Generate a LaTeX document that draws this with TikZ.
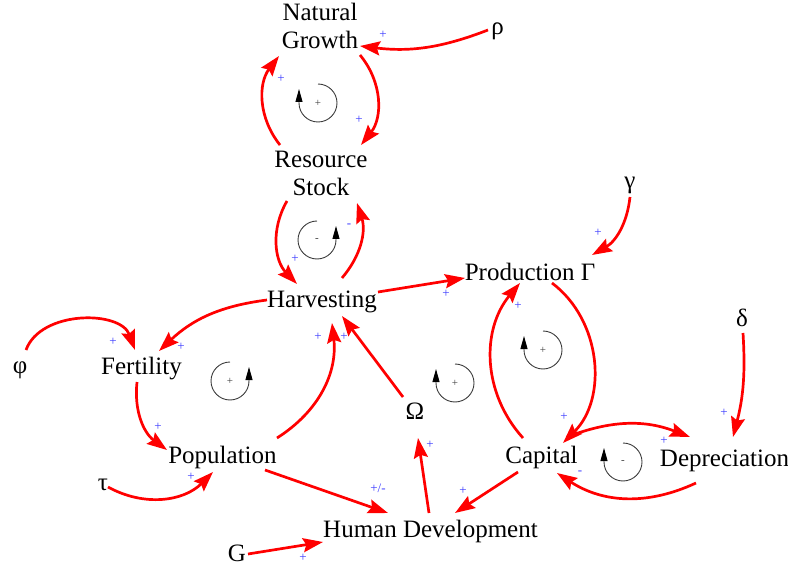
\documentclass[tikz,border=0pt]{standalone}
\usepackage{fontspec}
\setmainfont{Liberation Serif}
\usetikzlibrary{arrows.meta,calc}
\definecolor{plusblue}{RGB}{60,60,255}
\definecolor{loopgray}{RGB}{60,60,60}
\tikzset{
  var/.style={inner sep=0pt, anchor=base, font=\fontsize{25}{27.5}\selectfont},
  link/.style={draw=red, line width=2.7pt, -{Stealth[length=20pt,width=14pt,inset=3pt]}},
  pol/.style={text=plusblue, font=\fontsize{13}{14}\selectfont, inner sep=0pt},
  loopsign/.style={font=\fontsize{11}{12}\selectfont, inner sep=0pt, text=loopgray},
  loopline/.style={draw=loopgray, line width=0.9pt, -{Triangle[length=13pt,width=7pt,black]}},
}
\begin{document}
\begin{tikzpicture}[x=1pt,y=1pt]
\useasboundingbox (0,0) rectangle (788,-567);
% variables
\node[var] (ng) at (320,-21) {\begin{tabular}[t]{@{}c@{}}Natural\\Growth\end{tabular}};
\node[var] (rho) at (497.5,-35) {ρ};
\node[var] (rs) at (321,-168) {\begin{tabular}[t]{@{}c@{}}Resource\\Stock\end{tabular}};
\node[var] (hv) at (322,-307) {Harvesting};
\node[var] (pr) at (530,-280) {Production Γ};
\node[var] (gam) at (630,-189) {γ};
\node[var] (del) at (742,-326) {δ};
\node[var] (fe) at (141.5,-374) {Fertility};
\node[var] (phi) at (20,-373) {φ};
\node[var] (po) at (222.5,-463) {Population};
\node[var] (tau) at (103,-490) {τ};
\node[var] (hd) at (430.5,-537) {Human Development};
\node[var] (g) at (237,-561) {G};
\node[var] (om) at (415,-419) {Ω};
\node[var] (ca) at (541.5,-463) {Capital};
\node[var] (de) at (724.5,-466) {Depreciation};
% links
\draw[link] ($(rho.base)+(-9.5,5)$) to[bend left=14] ($(ng.base)+(40,-25)$);
\draw[link] ($(ng.base)+(40,-34)$) to[bend left=39] ($(rs.base)+(40,23)$);
\draw[link] ($(rs.base)+(-41,23)$) to[bend left=38] ($(ng.base)+(-41,-35)$);
\draw[link] ($(rs.base)+(-34,-33)$) to[bend right=37] ($(hv.base)+(-25,23)$);
\draw[link] ($(hv.base)+(20,29)$) to[bend right=29] ($(rs.base)+(36,-35)$);
\draw[link] ($(hv.base)+(56,15)$) -- ($(pr.base)+(-65,2)$);
\draw[link] ($(gam.base)+(0,-8)$) to[bend left=27] ($(pr.base)+(62,25)$);
\draw[link] ($(hv.base)+(-55,7)$) to[bend right=18] ($(fe.base)+(17.5,23)$);
\draw[link] ($(phi.base)+(6,23)$) to[bend left=70] ($(fe.base)+(-6.5,24)$);
\draw[link] ($(fe.base)+(-4.5,-8)$) to[bend right=30] ($(po.base)+(-55.5,13)$);
\draw[link] ($(po.base)+(54.5,25)$) to[bend right=32] ($(hv.base)+(10,-16)$);
\draw[link] ($(om.base)+(-12,22)$) -- ($(hv.base)+(20,-9)$);
\draw[link] ($(tau.base)+(5,3)$) to[bend right=37] ($(po.base)+(-9.5,-9)$);
\draw[link] ($(po.base)+(42.5,-7)$) -- ($(hd.base)+(-42.5,24)$);
\draw[link] ($(g.base)+(11,7)$) -- ($(hd.base)+(-107.5,-5)$);
\draw[link] ($(hd.base)+(-1.5,24)$) -- ($(om.base)+(3,-19)$);
\draw[link] ($(ca.base)+(-23.5,-9)$) -- ($(hd.base)+(24.5,24)$);
\draw[link] ($(ca.base)+(-18.5,25)$) to[bend left=41] ($(pr.base)+(-10,-3)$);
\draw[link] ($(pr.base)+(22,-3)$) to[bend left=49] ($(ca.base)+(21.5,20)$);
\draw[link] ($(ca.base)+(25.5,26)$) to[bend left=21] ($(de.base)+(-34.5,29)$);
\draw[link] ($(de.base)+(-28.5,-17)$) to[bend left=29] ($(ca.base)+(15.5,-10)$);
\draw[link] ($(del.base)+(1,-7)$) to[bend left=9] ($(de.base)+(8.5,29)$);
% polarities
\node[pol] at (383,-35) {+};
\node[pol] at (281,-79) {+};
\node[pol] at (359,-120) {+};
\node[pol] at (295,-259) {+};
\node[pol] at (349,-226) {-};
\node[pol] at (446,-294) {+};
\node[pol] at (598,-233) {+};
\node[pol] at (181,-347) {+};
\node[pol] at (113,-342) {+};
\node[pol] at (158,-427) {+};
\node[pol] at (318,-337) {+};
\node[pol] at (344,-337) {+};
\node[pol] at (191,-477) {+};
\node[pol] at (378,-488) {+/-};
\node[pol] at (303,-558) {+};
\node[pol] at (430,-445) {+};
\node[pol] at (463,-491) {+};
\node[pol] at (518,-306) {+};
\node[pol] at (564,-417) {+};
\node[pol] at (664,-441) {+};
\node[pol] at (580,-473) {-};
\node[pol] at (724,-413) {+};
% loop markers
\draw[loopline] (318,-84) arc[start angle=90,end angle=-180,radius=19] -- ++(0,14);
\node[loopsign] at (318,-103) {+};
\draw[loopline] (317,-221) arc[start angle=90,end angle=360,radius=19] -- ++(0,14);
\node[loopsign] at (317,-240) {-};
\draw[loopline] (230,-362) arc[start angle=90,end angle=360,radius=19] -- ++(0,14);
\node[loopsign] at (230,-381) {+};
\draw[loopline] (455,-364) arc[start angle=90,end angle=-180,radius=19] -- ++(0,14);
\node[loopsign] at (455,-383) {+};
\draw[loopline] (543,-331) arc[start angle=90,end angle=-180,radius=19] -- ++(0,14);
\node[loopsign] at (543,-350) {+};
\draw[loopline] (623,-443) arc[start angle=90,end angle=-180,radius=19] -- ++(0,14);
\node[loopsign] at (623,-462) {-};
\end{tikzpicture}
\end{document}
